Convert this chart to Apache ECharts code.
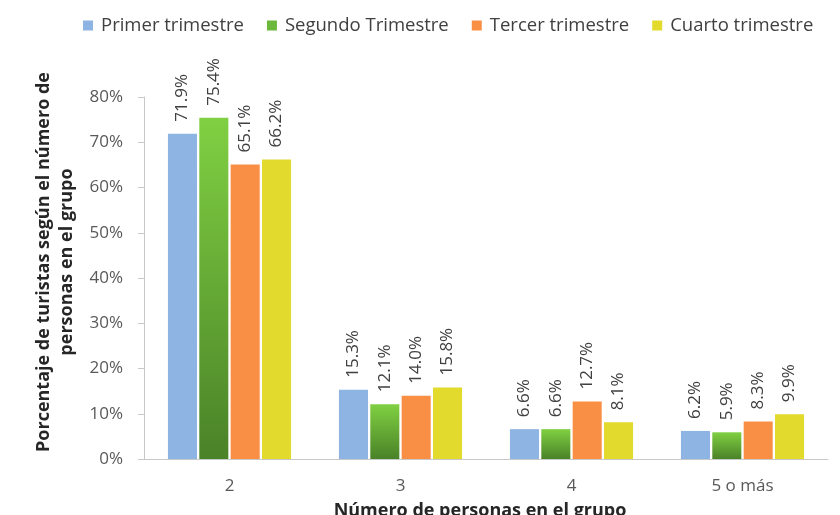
<!DOCTYPE html>
<html><head><meta charset="utf-8">
<script src="https://cdn.jsdelivr.net/npm/echarts@6/dist/echarts.min.js"></script>
<style>html,body{margin:0;padding:0;background:#fff}#c{width:840px;height:515px}</style>
</head><body><div id="c"></div>
<script>
const categories = ['2', '3', '4', '5 o más'];
const seriesNames = ['Primer trimestre', 'Segundo Trimestre', 'Tercer trimestre', 'Cuarto trimestre'];
const primer = [71.9, 15.3, 6.6, 6.2];
const segundo = [75.4, 12.1, 6.6, 5.9];
const tercer = [65.1, 14.0, 12.7, 8.3];
const cuarto = [66.2, 15.8, 8.1, 9.9];
const yTicks = [0, 10, 20, 30, 40, 50, 60, 70, 80];

const colors = [
  '#8db4e2',
  new echarts.graphic.LinearGradient(0, 0, 0, 1, [{offset: 0, color: '#80d042'}, {offset: 1, color: '#4a8228'}]),
  '#f98f45',
  '#e2da2c'
];
const legendColors = ['#8db4e2', '#6bb83a', '#f98f45', '#e2da2c'];
const values = [primer, segundo, tercer, cuarto];

const chart = echarts.init(document.getElementById('c'));
chart.setOption({
  animation: false,
  textStyle: {fontFamily: 'Open Sans'},
  legend: {
    top: 11, left: 78, itemWidth: 10, itemHeight: 10, itemGap: 23,
    icon: 'rect',
    textStyle: {fontSize: 18.5, color: '#404040', fontFamily: 'Open Sans', padding: [0, 0, 0, 3]},
    data: seriesNames.map((n, i) => ({name: n, itemStyle: {color: legendColors[i]}}))
  },
  grid: {left: 144, right: 12, top: 97, bottom: 56, containLabel: false, outerBoundsMode: 'none'},
  xAxis: {
    type: 'category', data: categories,
    axisLine: {lineStyle: {color: '#c8c8c8'}},
    axisTick: {show: false},
    axisLabel: {color: '#595959', fontSize: 17, margin: 19},
    name: 'Número de personas en el grupo', nameLocation: 'middle', nameGap: 43,
    nameTextStyle: {fontWeight: 'bold', fontSize: 18, color: '#262626', padding: [0, 12, 0, 0]}
  },
  yAxis: {
    type: 'value', min: 0, max: 80, interval: 10,
    axisLine: {show: true, lineStyle: {color: '#c8c8c8'}},
    axisTick: {show: true, length: 6, lineStyle: {color: '#c8c8c8'}},
    splitLine: {show: false},
    axisLabel: {color: '#595959', fontSize: 17, margin: 21, formatter: v => yTicks.includes(v) ? v + '%' : ''},
    name: 'Porcentaje de turistas según el número de\npersonas en el grupo',
    nameLocation: 'middle', nameGap: 42, nameRotate: 90,
    nameTextStyle: {fontWeight: 'bold', fontSize: 18, color: '#262626', lineHeight: 23, padding: [0, 0, 0, 32]}
  },
  series: seriesNames.map((n, i) => ({
    name: n, type: 'bar', data: values[i],
    barGap: '8%', barCategoryGap: '28%',
    itemStyle: {color: colors[i]},
    label: {
      show: true, position: 'top', rotate: 90, align: 'left', verticalAlign: 'middle',
      distance: 12, fontSize: 17, color: '#404040',
      formatter: p => p.value.toFixed(1) + '%'
    }
  }))
});
</script></body></html>
